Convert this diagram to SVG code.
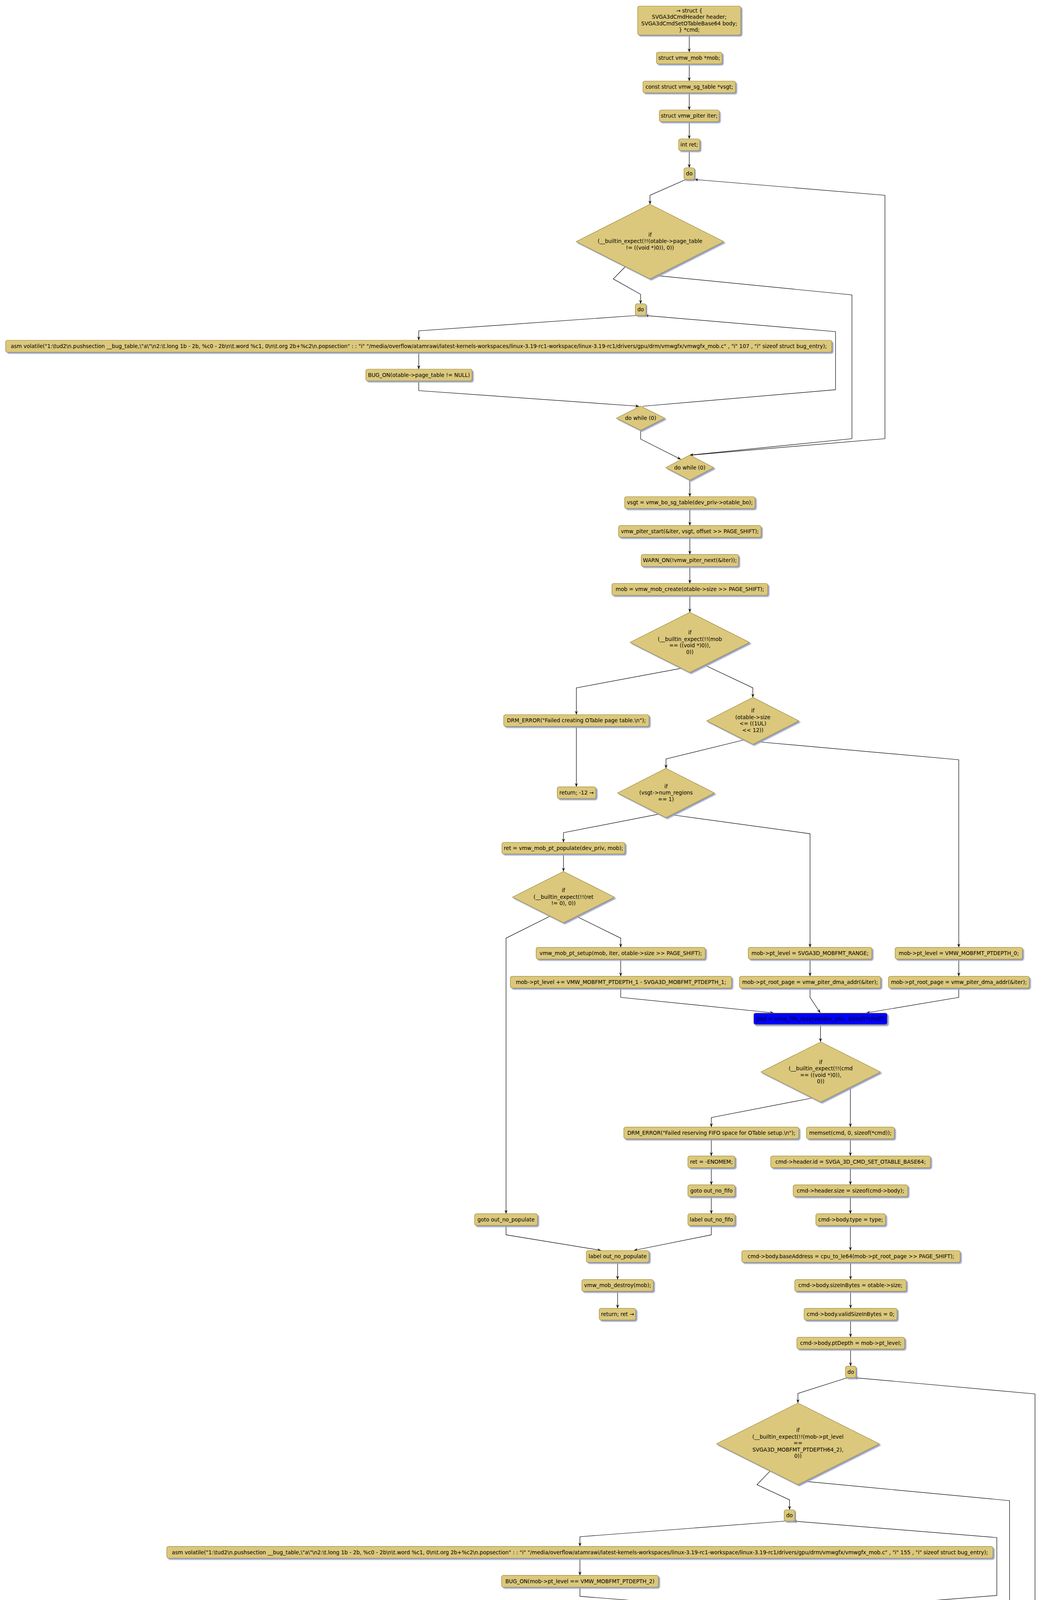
<svg xmlns="http://www.w3.org/2000/svg" width="2665" height="4555" viewBox="0 0 2665 4555">
<defs>
<style>
.b{fill:#DBC87C;stroke:#9C893A;stroke-width:1.2}
.bl{fill:#0000FF;stroke:#9C893A;stroke-width:1.2}
.s{filter:url(#sh)}
text{font-family:"DejaVu Sans","Liberation Sans",sans-serif;font-size:13.5px;fill:#000;text-anchor:middle}
.c{fill:none;stroke:#000;stroke-width:1.2}
.a{marker-end:url(#ah)}
</style>
<filter id="sh" x="-5%" y="-20%" width="115%" height="160%">
<feDropShadow dx="3.5" dy="3.5" stdDeviation="1" flood-color="#98A2C4" flood-opacity="1"/>
</filter>
<marker id="ah" markerUnits="userSpaceOnUse" markerWidth="11" markerHeight="9" refX="10" refY="4.5" orient="auto">
<path d="M0,0.5 L10,4.5 L0,8.5 L4,4.5 Z" fill="#000"/>
</marker>
</defs>
<rect x="0" y="0" width="2665" height="4555" fill="#fff"/>

<g id="connectors">
<polyline class="c a" points="1764.5,89.5 1764.5,133.5"/>
<polyline class="c a" points="1764.5,163.5 1764.5,207.5"/>
<polyline class="c a" points="1764.5,237.5 1764.5,281.5"/>
<polyline class="c a" points="1764.5,311.5 1764.5,355.5"/>
<polyline class="c a" points="1764.5,385.5 1764.5,429.5"/>
<polyline class="c a" points="1756,459.5 1664,500 1664,523"/>
<polyline class="c a" points="1601,682.5 1570,714 1640,753.5 1640,777.5"/>
<polyline class="c a" points="1681.6,705.6 2181,755 2181,1123 1766,1165"/>
<polyline class="c a" points="1632,807.5 1072,847 1072,871"/>
<polyline class="c a" points="1072,901.5 1072,945"/>
<polyline class="c a" points="1072,975 1072,1000 1636,1040"/>
<polyline class="c a" points="1645,1040 2139,997.6 2139,849 1651,807.6"/>
<polyline class="c a" points="1640,1101.5 1640,1124 1743,1176"/>
<polyline class="c a" points="1770,1165 2265.5,1123 2265.5,500 1778,459.5"/>
<polyline class="c a" points="1766,1229 1766,1271.5"/>
<polyline class="c a" points="1766,1301.8 1766,1345.4"/>
<polyline class="c a" points="1766,1375.4 1766,1419.3"/>
<polyline class="c a" points="1766,1450 1766,1493.5"/>
<polyline class="c a" points="1766,1524 1766,1567.5"/>
<polyline class="c a" points="1744,1710.8 1475.5,1761 1475.5,1829.5"/>
<polyline class="c a" points="1802.5,1702 1927.3,1761 1927.3,1785.4"/>
<polyline class="c a" points="1475.5,1859.5 1475.5,2014.3"/>
<polyline class="c a" points="1905,1894 1705,1943 1705,1967"/>
<polyline class="c a" points="1940,1899 2454.5,1945 2454.5,2425.3"/>
<polyline class="c a" points="1685.3,2084.3 1442.5,2131.7 1442.5,2156.5"/>
<polyline class="c a" points="1721,2086 2073.7,2134.3 2073.7,2425.3"/>
<polyline class="c a" points="1442.5,2186 1442.5,2231"/>
<polyline class="c a" points="1407.5,2345.7 1295.5,2401.7 1295.5,3107.2"/>
<polyline class="c a" points="1475.5,2345.7 1589,2401.7 1589,2425.3"/>
<polyline class="c a" points="1589,2455.3 1589,2499.3"/>
<polyline class="c a" points="1589,2529.3 1589,2553.3 1980.5,2593"/>
<polyline class="c a" points="2073.7,2455.3 2073.7,2499.3"/>
<polyline class="c a" points="2073.7,2529.3 2073.7,2553.3 2100,2593"/>
<polyline class="c a" points="2454.5,2455.3 2454.5,2499.3"/>
<polyline class="c a" points="2454.5,2529.3 2454.5,2553.3 2218,2593"/>
<polyline class="c a" points="2100.5,2622.8 2100.5,2667.3"/>
<polyline class="c a" points="2079,2811 1821,2861 1821,2885.3"/>
<polyline class="c a" points="2177,2782 2177,2885.3"/>
<polyline class="c a" points="1821,2915.3 1821,2959.3"/>
<polyline class="c a" points="1821,2989.3 1821,3033.2"/>
<polyline class="c a" points="1821,3063.2 1821,3107.2"/>
<polyline class="c a" points="2177,2915.3 2177,2959.3"/>
<polyline class="c a" points="2177,2989.3 2177,3033.2"/>
<polyline class="c a" points="2177,3063.2 2177,3107.2"/>
<polyline class="c a" points="1295.5,3137.2 1295.5,3161.2 1538.6,3201"/>
<polyline class="c a" points="1821,3137.2 1821,3161.2 1623,3201"/>
<polyline class="c a" points="2177,3137.2 2177,3201.5"/>
<polyline class="c a" points="1581,3231.5 1581,3275.7"/>
<polyline class="c a" points="1581,3305.7 1581,3349.3"/>
<polyline class="c a" points="2177.5,3231.5 2177.5,3275.7"/>
<polyline class="c a" points="2177.5,3305.7 2177.5,3349.3"/>
<polyline class="c a" points="2177.5,3379.3 2177.5,3423.3"/>
<polyline class="c a" points="2177.5,3453.3 2177.5,3497.3"/>
<polyline class="c a" points="2170,3526.8 2042.7,3567.2 2042.7,3591.8"/>
<polyline class="c a" points="1972.1,3765.2 1937.9,3800.9 2021.3,3839.7 2021.3,3865"/>
<polyline class="c a" points="2059.3,3792.2 2584.5,3841.7 2584.5,4210 2112.8,4252"/>
<polyline class="c a" points="2009.6,3894 1484.6,3934 1484.6,3958.8"/>
<polyline class="c a" points="1484.6,3989 1484.6,4032.8"/>
<polyline class="c a" points="1484.6,4063 1484.6,4086.7 2012.4,4127.5"/>
<polyline class="c a" points="2020.7,4126.5 2551.9,4084.4 2551.9,3936.2 2030.6,3894"/>
<polyline class="c a" points="2018.5,4188.5 2018.5,4213.2 2085.8,4261.8"/>
<polyline class="c a" points="2116,4252 2649.6,4211.3 2649.6,3568.5 2186.6,3526.8"/>
<polyline class="c a" points="2112.5,4314.2 2112.5,4358.9"/>
<polyline class="c a" points="2112.5,4388.1 2112.5,4433.3"/>
<polyline class="c a" points="2112.5,4462.5 2112.5,4506.5"/>
</g>

<g id="n1"><rect class="b s" x="1632.5" y="15.5" width="264" height="74" rx="5"/>
<text x="1764.5" y="31.5">→ struct {</text><text x="1764.5" y="48">SVGA3dCmdHeader header;</text><text x="1764.5" y="64.5">SVGA3dCmdSetOTableBase64 body;</text><text x="1764.5" y="81">} *cmd;</text></g>
<g id="n2"><rect class="b s" x="1680.5" y="133.5" width="168" height="30" rx="5"/><text x="1764.5" y="153.2">struct vmw_mob *mob;</text></g>
<g id="n3"><rect class="b s" x="1646" y="207.5" width="237" height="30" rx="5"/><text x="1764.5" y="227.2">const struct vmw_sg_table *vsgt;</text></g>
<g id="n4"><rect class="b s" x="1688" y="281.5" width="153" height="30" rx="5"/><text x="1764.5" y="301.2">struct vmw_piter iter;</text></g>
<g id="n5"><rect class="b s" x="1737.5" y="355.5" width="54" height="30" rx="5"/><text x="1764.5" y="375.2">int ret;</text></g>
<g id="n6"><rect class="b s" x="1751" y="429.5" width="27" height="30" rx="5"/><text x="1764.5" y="449.2">do</text></g>
<g id="d1"><polygon class="b s" points="1664,523 1853,618.5 1664,714 1475,618.5"/>
<text x="1664" y="606.1">if</text><text x="1664" y="622.4">(__builtin_expect(!!(otable-&gt;page_table</text><text x="1664" y="638.7">!= ((void *)0)), 0))</text></g>
<g id="n7"><rect class="b s" x="1626.5" y="777.5" width="27.5" height="30" rx="5"/><text x="1640.2" y="797.2">do</text></g>
<g id="n8"><rect class="b s" x="14.5" y="871" width="2115" height="30.5" rx="5"/><text x="1072" y="891">asm volatile("1:\tud2\n.pushsection __bug_table,\"a\"\n2:\t.long 1b - 2b, %c0 - 2b\n\t.word %c1, 0\n\t.org 2b+%c2\n.popsection" : : "i" "/media/overflow/atamrawi/latest-kernels-workspaces/linux-3.19-rc1-workspace/linux-3.19-rc1/drivers/gpu/drm/vmwgfx/vmwgfx_mob.c" , "i" 107 , "i" sizeof struct bug_entry);</text></g>
<g id="n9"><rect class="b s" x="936.5" y="945" width="272" height="30" rx="5"/><text x="1072.5" y="964.7">BUG_ON(otable-&gt;page_table != NULL)</text></g>
<g id="d2"><polygon class="b s" points="1640,1039.5 1702,1070.5 1640,1101.5 1578,1070.5"/><text x="1640" y="1075.2">do while (0)</text></g>
<g id="d3"><polygon class="b s" points="1766,1165 1827.5,1197 1766,1229 1704.5,1197"/><text x="1766" y="1201.7">do while (0)</text></g>
<g id="n10"><rect class="b s" x="1599" y="1271.5" width="334" height="30.3" rx="5"/><text x="1766" y="1291.3">vsgt = vmw_bo_sg_table(dev_priv-&gt;otable_bo);</text></g>
<g id="n11"><rect class="b s" x="1583.5" y="1345.4" width="365" height="30" rx="5"/><text x="1766" y="1365.1">vmw_piter_start(&amp;iter, vsgt, offset &gt;&gt; PAGE_SHIFT);</text></g>
<g id="n12"><rect class="b s" x="1641.5" y="1419.3" width="249" height="30.7" rx="5"/><text x="1766" y="1439.3">WARN_ON(!vmw_piter_next(&amp;iter));</text></g>
<g id="n13"><rect class="b s" x="1566.5" y="1493.5" width="399" height="30.5" rx="5"/><text x="1766" y="1513.4">mob = vmw_mob_create(otable-&gt;size &gt;&gt; PAGE_SHIFT);</text></g>
<g id="d4"><polygon class="b s" points="1766,1567.5 1919,1644.5 1766,1721.5 1613,1644.5"/>
<text x="1766" y="1624.4">if</text><text x="1766" y="1640.9">(__builtin_expect(!!(mob</text><text x="1766" y="1657.4">== ((void *)0)),</text><text x="1766" y="1673.9">0))</text></g>
<g id="n14"><rect class="b s" x="1289.5" y="1829.5" width="372" height="30" rx="5"/><text x="1475.5" y="1849.2">DRM_ERROR("Failed creating OTable page table.\n");</text></g>
<g id="d5"><polygon class="b s" points="1927.3,1785.4 2045.3,1845.4 1927.3,1905.4 1809.3,1845.4"/>
<text x="1927.3" y="1824">if</text><text x="1927.3" y="1840.5">(otable-&gt;size</text><text x="1927.3" y="1857">&lt;= ((1UL)</text><text x="1927.3" y="1873.5">&lt;&lt; 12))</text></g>
<g id="n15"><rect class="b s" x="1426.5" y="2014.3" width="99" height="30" rx="5"/><text x="1476" y="2034">return; -12 →</text></g>
<g id="d6"><polygon class="b s" points="1705,1967 1829,2030 1705,2093 1581,2030"/>
<text x="1705" y="2017.7">if</text><text x="1705" y="2034.2">(vsgt-&gt;num_regions</text><text x="1705" y="2050.7">== 1)</text></g>
<g id="n16"><rect class="b s" x="1285" y="2156.5" width="315" height="29.5" rx="5"/><text x="1442.5" y="2176">ret = vmw_mob_pt_populate(dev_priv, mob);</text></g>
<g id="d7"><polygon class="b s" points="1442.5,2231 1573,2296.7 1442.5,2362.4 1312,2296.7"/>
<text x="1442.5" y="2284">if</text><text x="1442.5" y="2300.5">(__builtin_expect(!!(ret</text><text x="1442.5" y="2317">!= 0), 0))</text></g>
<g id="n17"><rect class="b s" x="1372.5" y="2425.3" width="433" height="30" rx="5"/><text x="1589" y="2445">vmw_mob_pt_setup(mob, iter, otable-&gt;size &gt;&gt; PAGE_SHIFT);</text></g>
<g id="n18"><rect class="b s" x="1306.5" y="2499.3" width="566.5" height="30" rx="5"/><text x="1589.7" y="2519">mob-&gt;pt_level += VMW_MOBFMT_PTDEPTH_1 - SVGA3D_MOBFMT_PTDEPTH_1;</text></g>
<g id="n19"><rect class="b s" x="1915.5" y="2425.3" width="316.5" height="30" rx="5"/><text x="2073.7" y="2445">mob-&gt;pt_level = SVGA3D_MOBFMT_RANGE;</text></g>
<g id="n20"><rect class="b s" x="1893" y="2499.3" width="361.5" height="30" rx="5"/><text x="2073.7" y="2519">mob-&gt;pt_root_page = vmw_piter_dma_addr(&amp;iter);</text></g>
<g id="n21"><rect class="b s" x="2291.5" y="2425.3" width="326" height="30" rx="5"/><text x="2454.5" y="2445">mob-&gt;pt_level = VMW_MOBFMT_PTDEPTH_0;</text></g>
<g id="n22"><rect class="b s" x="2274.5" y="2499.3" width="360.5" height="30" rx="5"/><text x="2454.7" y="2519">mob-&gt;pt_root_page = vmw_piter_dma_addr(&amp;iter);</text></g>
<g id="n23"><rect class="bl s" x="1929.5" y="2593.3" width="342" height="29.5" rx="5"/><text x="2100.5" y="2612.7">cmd = vmw_fifo_reserve(dev_priv, sizeof(*cmd));</text></g>
<g id="d8"><polygon class="b s" points="2101,2667.3 2254,2744.3 2101,2821.3 1948,2744.3"/>
<text x="2101" y="2723.6">if</text><text x="2101" y="2740.1">(__builtin_expect(!!(cmd</text><text x="2101" y="2756.6">== ((void *)0)),</text><text x="2101" y="2773.1">0))</text></g>
<g id="n24"><rect class="b s" x="1597" y="2885.3" width="448" height="30" rx="5"/><text x="1821" y="2905">DRM_ERROR("Failed reserving FIFO space for OTable setup.\n");</text></g>
<g id="n25"><rect class="b s" x="2064.5" y="2885.3" width="225" height="30" rx="5"/><text x="2177" y="2905">memset(cmd, 0, sizeof(*cmd));</text></g>
<g id="n26"><rect class="b s" x="1761" y="2959.3" width="120.5" height="30" rx="5"/><text x="1821.2" y="2979">ret = -ENOMEM;</text></g>
<g id="n27"><rect class="b s" x="1973" y="2959.3" width="409" height="30" rx="5"/><text x="2177.5" y="2979">cmd-&gt;header.id = SVGA_3D_CMD_SET_OTABLE_BASE64;</text></g>
<g id="n28"><rect class="b s" x="1761" y="3033.2" width="120.5" height="30" rx="5"/><text x="1821.2" y="3052.9">goto out_no_fifo</text></g>
<g id="n29"><rect class="b s" x="2030.5" y="3033.2" width="293.5" height="30" rx="5"/><text x="2177.2" y="3052.9">cmd-&gt;header.size = sizeof(cmd-&gt;body);</text></g>
<g id="n30"><rect class="b s" x="1761" y="3107.2" width="120.5" height="30" rx="5"/><text x="1821.2" y="3126.9">label out_no_fifo</text></g>
<g id="n31"><rect class="b s" x="1215" y="3107.2" width="161" height="30" rx="5"/><text x="1295.5" y="3126.9">goto out_no_populate</text></g>
<g id="n32"><rect class="b s" x="2088.5" y="3107.2" width="178.5" height="30" rx="5"/><text x="2177.7" y="3126.9">cmd-&gt;body.type = type;</text></g>
<g id="n33"><rect class="b s" x="1501" y="3201.5" width="160.5" height="30" rx="5"/><text x="1581.2" y="3221.2">label out_no_populate</text></g>
<g id="n34"><rect class="b s" x="1899" y="3201.5" width="559" height="30" rx="5"/><text x="2178.5" y="3221.2">cmd-&gt;body.baseAddress = cpu_to_le64(mob-&gt;pt_root_page &gt;&gt; PAGE_SHIFT);</text></g>
<g id="n35"><rect class="b s" x="1489.5" y="3275.7" width="183" height="30" rx="5"/><text x="1581" y="3295.4">vmw_mob_destroy(mob);</text></g>
<g id="n36"><rect class="b s" x="1534" y="3349.3" width="93.5" height="30" rx="5"/><text x="1580.7" y="3369">return; ret →</text></g>
<g id="n37"><rect class="b s" x="2034.5" y="3275.7" width="285.5" height="30" rx="5"/><text x="2177.2" y="3295.4">cmd-&gt;body.sizeInBytes = otable-&gt;size;</text></g>
<g id="n38"><rect class="b s" x="2058.5" y="3349.3" width="238" height="30" rx="5"/><text x="2177.5" y="3369">cmd-&gt;body.validSizeInBytes = 0;</text></g>
<g id="n39"><rect class="b s" x="2040" y="3423.3" width="276" height="30" rx="5"/><text x="2178" y="3443">cmd-&gt;body.ptDepth = mob-&gt;pt_level;</text></g>
<g id="n40"><rect class="b s" x="2164.5" y="3497.3" width="27" height="29.5" rx="5"/><text x="2178" y="3516.8">do</text></g>
<g id="d9"><polygon class="b s" points="2042.7,3591.8 2251.2,3696.3 2042.7,3800.8 1834.2,3696.3"/>
<text x="2042.7" y="3666.4">if</text><text x="2042.7" y="3682.9">(__builtin_expect(!!(mob-&gt;pt_level</text><text x="2042.7" y="3699.4">==</text><text x="2042.7" y="3715.9">SVGA3D_MOBFMT_PTDEPTH64_2),</text><text x="2042.7" y="3732.4">0))</text></g>
<g id="n41"><rect class="b s" x="2007.5" y="3865" width="27.5" height="29" rx="5"/><text x="2021.2" y="3884.2">do</text></g>
<g id="n42"><rect class="b s" x="427" y="3958.8" width="2115" height="30.2" rx="5"/><text x="1484.5" y="3978.6">asm volatile("1:\tud2\n.pushsection __bug_table,\"a\"\n2:\t.long 1b - 2b, %c0 - 2b\n\t.word %c1, 0\n\t.org 2b+%c2\n.popsection" : : "i" "/media/overflow/atamrawi/latest-kernels-workspaces/linux-3.19-rc1-workspace/linux-3.19-rc1/drivers/gpu/drm/vmwgfx/vmwgfx_mob.c" , "i" 155 , "i" sizeof struct bug_entry);</text></g>
<g id="n43"><rect class="b s" x="1284" y="4032.8" width="401.5" height="30.2" rx="5"/><text x="1484.7" y="4052.6">BUG_ON(mob-&gt;pt_level == VMW_MOBFMT_PTDEPTH_2)</text></g>
<g id="d10"><polygon class="b s" points="2018.5,4126.5 2080,4157.5 2018.5,4188.5 1957,4157.5"/><text x="2018.5" y="4162.2">do while (0)</text></g>
<g id="d11"><polygon class="b s" points="2112.8,4252 2175.4,4283.1 2112.8,4314.2 2050.2,4283.1"/><text x="2112.8" y="4287.8">do while (0)</text></g>
<g id="n44"><rect class="bl s" x="1966.5" y="4358.9" width="291.5" height="29.2" rx="5"/><text x="2112.2" y="4378.2">vmw_fifo_commit(dev_priv, sizeof(*cmd));</text></g>
<g id="n45"><rect class="b s" x="2011.5" y="4433.3" width="201" height="29.2" rx="5"/><text x="2112" y="4452.6">otable-&gt;page_table = mob;</text></g>
<g id="n46"><rect class="b s" x="2070" y="4506.5" width="85" height="29.2" rx="5"/><text x="2112.5" y="4525.8">return; 0 →</text></g>
</svg>
